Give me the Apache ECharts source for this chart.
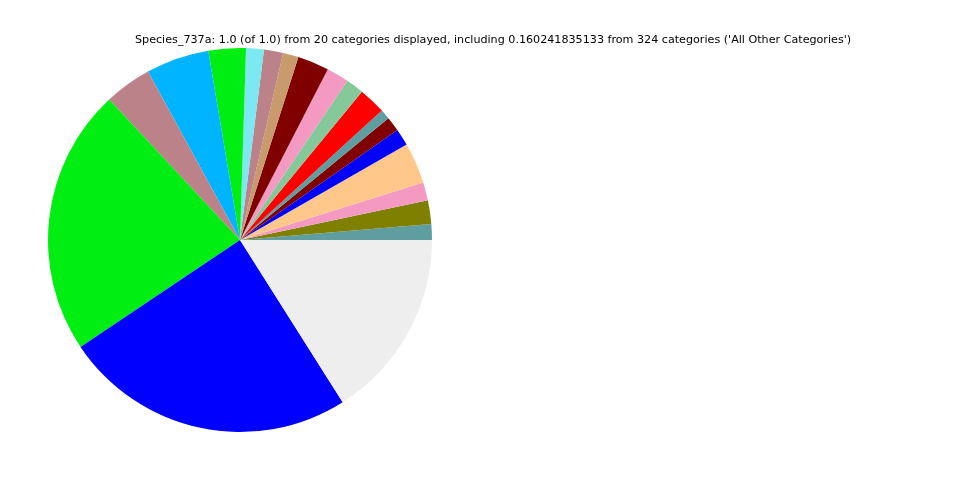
<!DOCTYPE html>
<html>
<head>
<meta charset="utf-8">
<script src="https://cdn.jsdelivr.net/npm/echarts@6/dist/echarts.min.js"></script>
<style>html,body{margin:0;padding:0;background:#fff;}#c{width:960px;height:480px;}</style>
</head>
<body>
<div id="c"></div>
<script>
const titleText = "Species_737a: 1.0 (of 1.0) from 20 categories displayed, including 0.160241835133 from 324 categories ('All Other Categories')";
const categories = ["c1","c2","c3","c4","c5","c6","c7","c8","c9","c10","c11","c12","c13","c14","c15","c16","c17","c18","c19","All Other Categories"];
const values = [0.0133,0.0198,0.0153,0.0344,0.0144,0.0122,0.0083,0.0228,0.0150,0.0189,0.0264,0.0131,0.0161,0.0150,0.0314,0.0531,0.0397,0.2247,0.2458,0.1602];
const colors = ["#5F9EA0","#808000","#F49AC2","#FFC88A","#0000FF","#800000","#5F9EA0","#FF0000","#85C89A","#F49AC2","#800000","#C89A6C","#BC8289","#7BE8F2","#00EE11","#00B4FF","#BC8289","#00EE11","#0000FF","#EEEEEE"];

const chart = echarts.init(document.getElementById('c'), null, {renderer:'canvas'});
chart.setOption({
  animation: false,
  backgroundColor: '#ffffff',
  title: {
    text: titleText,
    left: 135, top: 35, padding: 0,
    textStyle: {fontFamily: 'DejaVu Sans', fontSize: 11.15, fontWeight: 'normal', color: '#000'}
  },
  series: [{
    type: 'pie',
    center: [240, 240],
    radius: [0, 192],
    startAngle: 0,
    clockwise: false,
    label: {show: false},
    labelLine: {show: false},
    emphasis: {disabled: true},
    itemStyle: {borderWidth: 0},
    data: categories.map((n, i) => ({name: n, value: values[i], itemStyle: {color: colors[i]}}))
  }]
});
</script>
</body>
</html>
